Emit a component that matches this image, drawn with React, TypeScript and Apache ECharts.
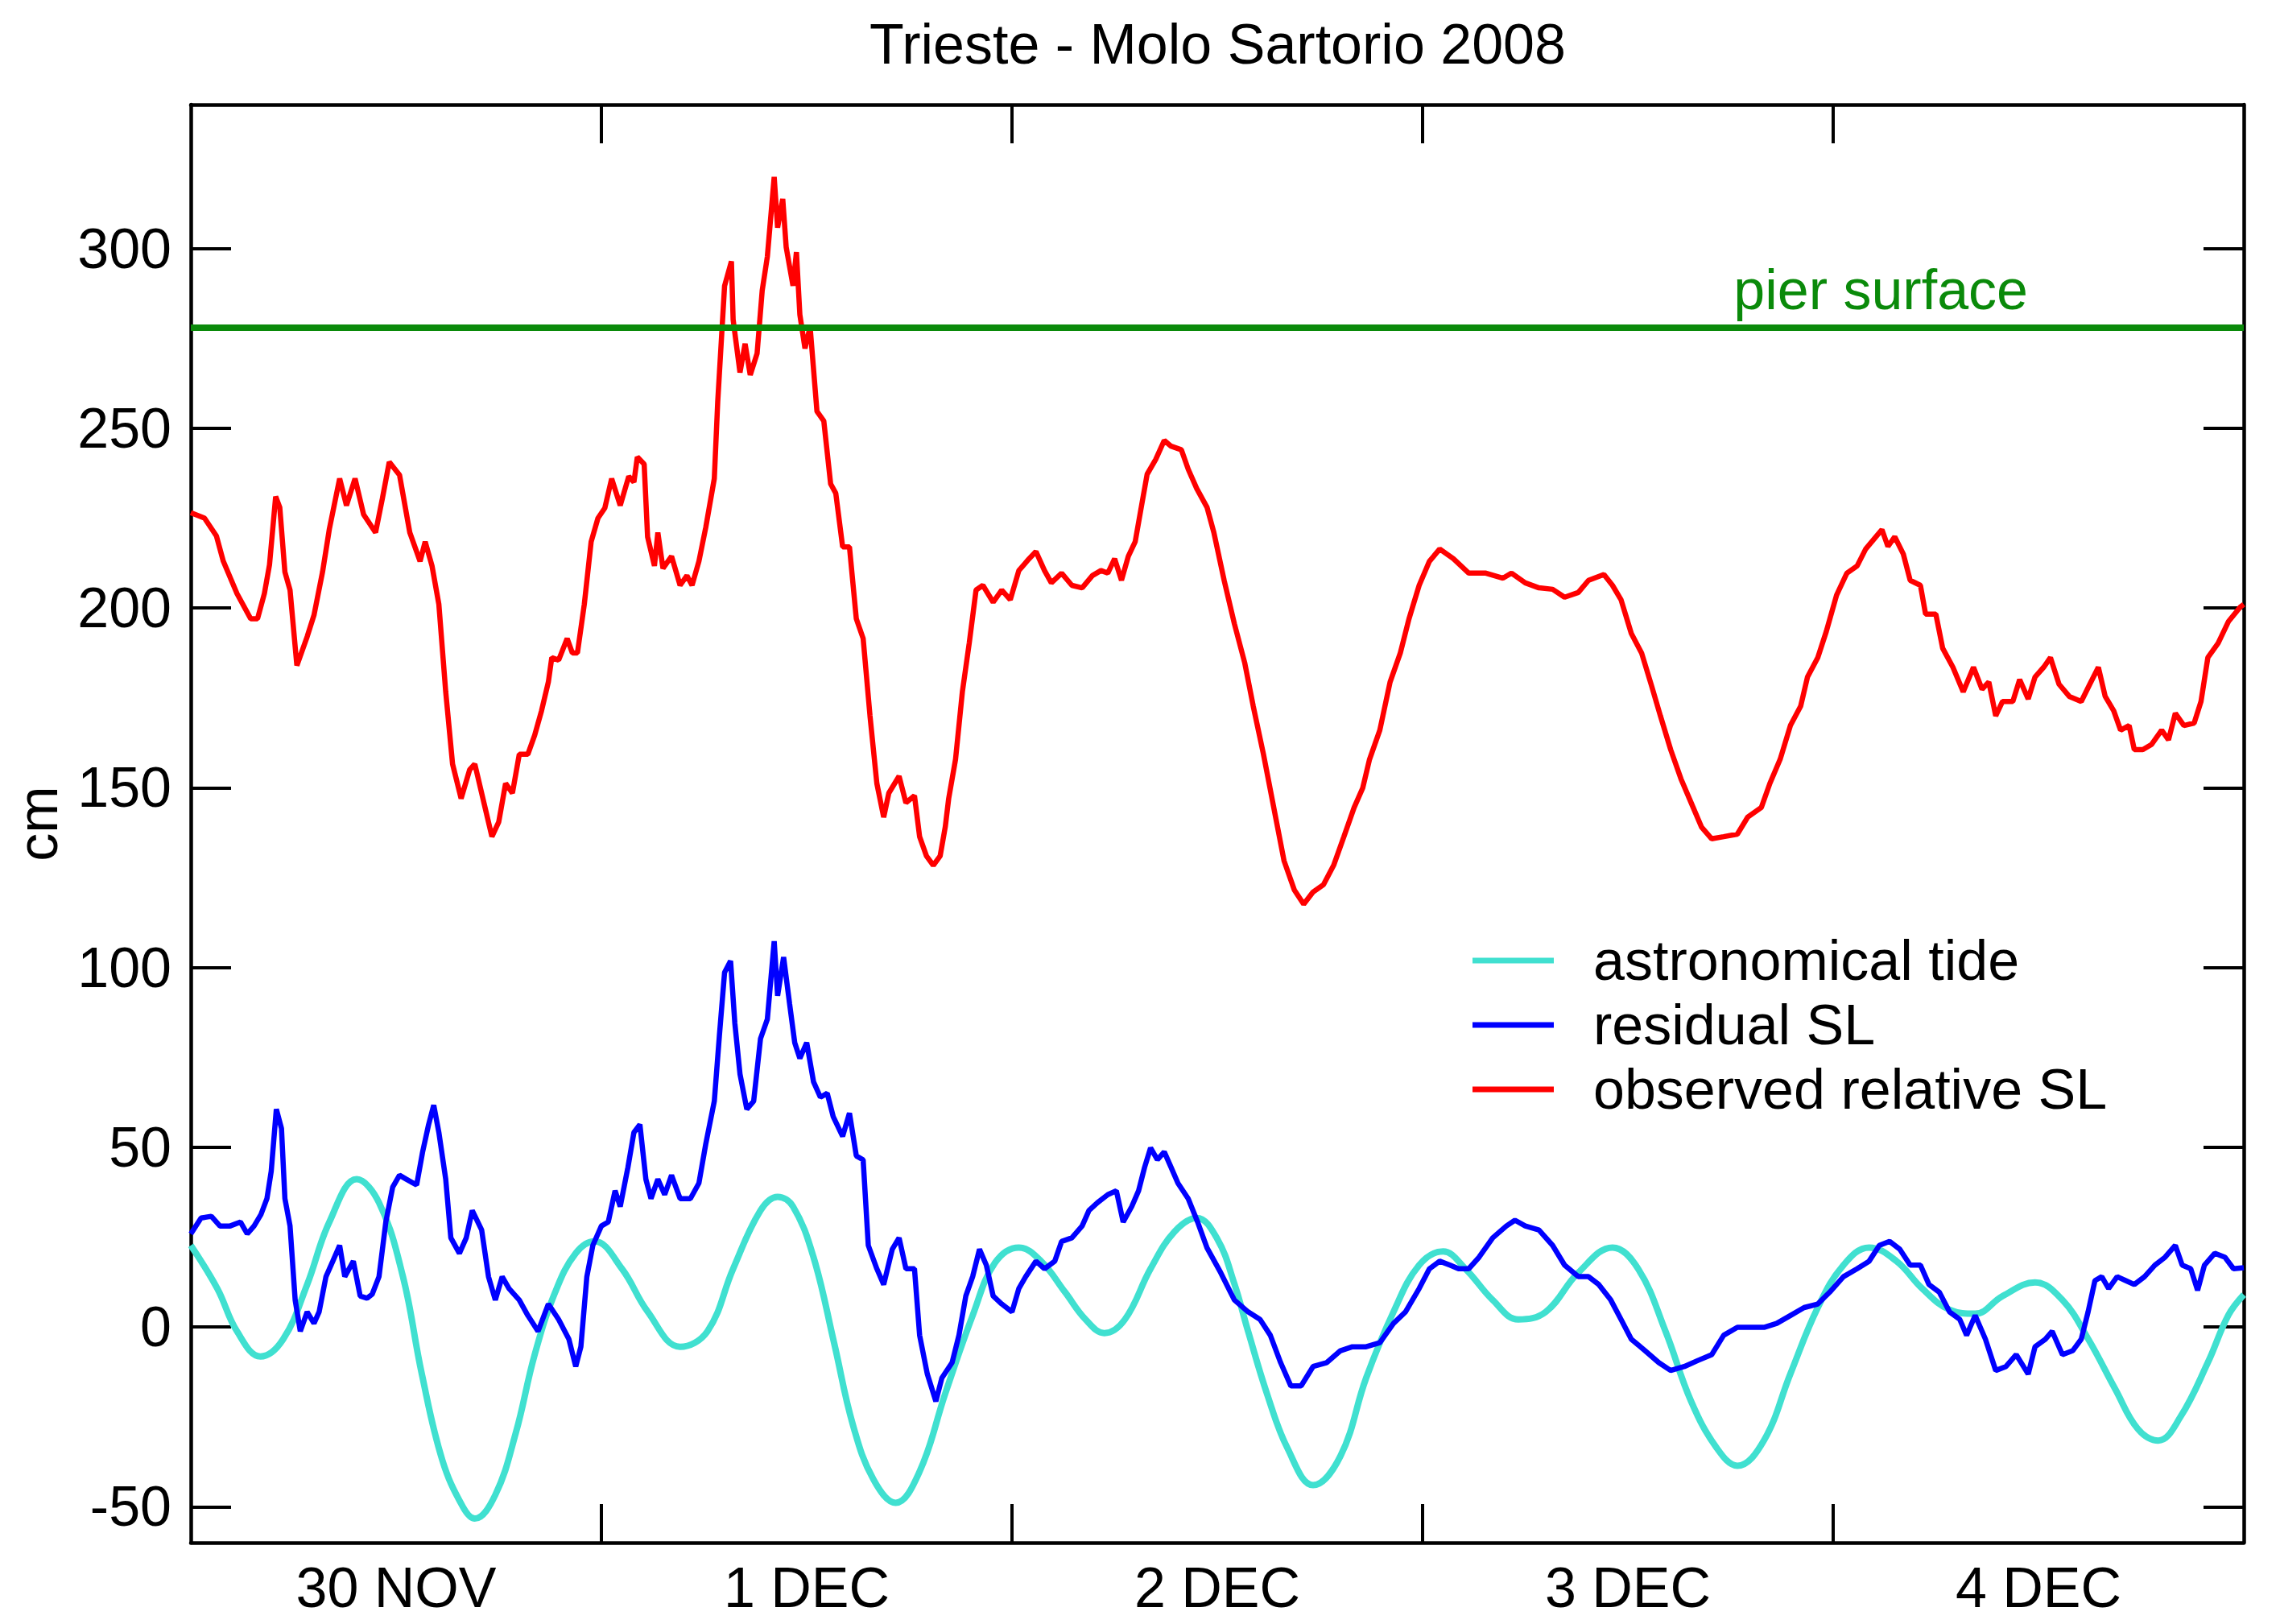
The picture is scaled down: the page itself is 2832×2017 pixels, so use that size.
import React, { useEffect, useRef } from "react";
import * as echarts from "echarts";

// hours since 30 Nov 2008 00:00, value in cm
const tideData: [number, number][] = [
  [0, 22.7], [1.55, 10.7], [2.7, -1.2], [4.07, -8.2], [5.4, -3.4], [6.8, 11.8], [8.1, 29.2], [9.7, 41.1],
  [11.0, 34.6], [12.4, 14], [13.5, -13], [14.7, -37], [15.9, -50], [16.6, -53.3], [17.8, -46.7], [19.0, -29.4],
  [20.1, -7.7], [21.3, 9.7], [22.5, 20.5], [23.6, 23.8], [25.2, 16.2], [26.7, 4.3], [28.6, -5.5], [30.2, -1.2],
  [31.7, 16.2], [33.3, 32.4], [34.3, 36.2], [35.2, 33.5], [36.4, 19.4], [37.6, -4.4], [38.7, -27.2], [39.9, -42.4],
  [41.2, -48.9], [42.6, -40.2], [44.1, -18.5], [45.7, 3.2], [47.0, 17.8], [48.4, 22.1], [49.7, 18.3], [51.1, 9.7],
  [52.3, 2.1], [53.4, -1.7], [54.6, 2.1], [56.1, 16.2], [57.5, 26.5], [58.8, 30.3], [60.0, 24.5], [61.0, 12],
  [61.8, -1.2], [62.9, -18.5], [64.1, -33.7], [65.6, -44], [67.2, -35.9], [68.7, -14.2], [70.3, 4.2], [71.8, 17.2],
  [73.2, 21], [74.5, 16.2], [76.1, 7.5], [77.6, 2.1], [79.2, 4.2], [81.1, 15.1], [83.1, 22.1], [84.6, 16.2],
  [86.2, -1.2], [87.7, -20.7], [89.2, -33.7], [90.4, -38.6], [91.96, -31.5], [93.5, -13], [95.1, 5.4], [96.6, 17.2],
  [98.1, 22.1], [99.7, 18.3], [101.2, 10.7], [102.8, 4.8], [104.3, 3.7], [105.9, 8.6], [107.8, 12.4], [109.4, 7.5],
  [110.9, -3.3], [112.5, -17.4], [113.8, -28.3], [115.0, -31.6], [116.3, -25], [117.9, -9.9], [119.1, 3.3], [120, 9]
];

const residualData: [number, number][] = [
  [0, 25.9], [0.6, 30.3], [1.2, 30.8], [1.7, 28.1], [2.3, 28.1], [2.9, 29.2], [3.3, 25.9], [3.7, 28.1], [4.1, 31.3],
  [4.45, 35.7], [4.7, 43.3], [5.0, 60.6], [5.3, 55.2], [5.5, 35.7], [5.8, 28.1], [6.1, 7.5], [6.4, -1.2], [6.8, 4.2],
  [7.2, 1], [7.5, 4.2], [7.9, 14], [8.3, 18.3], [8.7, 22.7], [9.0, 14], [9.5, 18.3], [9.9, 8.6], [10.3, 8], [10.6, 9.1],
  [11.0, 14], [11.4, 29.2], [11.8, 38.9], [12.2, 42.2], [12.6, 41.1], [13.2, 39.5], [13.55, 48.7], [13.9, 56.3],
  [14.2, 61.7], [14.5, 54.1], [14.9, 41.1], [15.2, 24.8], [15.7, 20.5], [16.1, 24.8], [16.45, 32.4], [17.0, 27],
  [17.4, 14], [17.8, 7.5], [18.2, 14], [18.6, 10.7], [19.2, 7.5], [19.7, 3.2], [20.3, -1.2], [20.9, 6.4], [21.5, 2.1],
  [22.1, -3.4], [22.5, -11], [22.8, -5.5], [23.15, 14], [23.5, 22.7], [24.0, 28.1], [24.4, 29.2], [24.8, 37.9],
  [25.1, 33.5], [25.55, 44.4], [25.9, 54.1], [26.25, 56.3], [26.6, 41.1], [26.9, 35.7], [27.3, 41.1], [27.7, 36.8],
  [28.1, 42.2], [28.6, 35.7], [29.2, 35.7], [29.7, 40], [30.1, 50.9], [30.6, 62.8], [30.9, 81.2], [31.2, 98.6],
  [31.55, 101.8], [31.8, 84.5], [32.1, 70.4], [32.5, 60.6], [32.9, 62.8], [33.3, 80.2], [33.7, 85.6], [34.1, 107.3],
  [34.3, 92.1], [34.65, 102.9], [35.0, 89.9], [35.3, 79.1], [35.6, 74.7], [36.0, 79.1], [36.4, 68.2], [36.8, 63.9],
  [37.2, 65], [37.55, 58.5], [38.1, 53], [38.5, 59.5], [38.9, 47.6], [39.3, 46.5], [39.6, 22.7], [40.1, 16.2],
  [40.5, 11.8], [41.0, 21.6], [41.4, 24.8], [41.8, 16.2], [42.3, 16.2], [42.6, -2.3], [43.05, -13.1], [43.55, -20.7],
  [43.9, -14.2], [44.5, -9.9], [44.9, -2.3], [45.3, 8.6], [45.7, 14], [46.1, 21.6], [46.5, 17.2], [46.9, 8.6],
  [47.4, 6.4], [48.0, 4.2], [48.4, 10.7], [48.8, 14], [49.4, 18.3], [49.9, 16.2], [50.5, 18.3], [50.9, 23.8],
  [51.5, 24.8], [52.1, 28.1], [52.5, 32.4], [53.0, 34.6], [53.6, 36.8], [54.1, 37.9], [54.5, 29.2], [55.0, 33.5],
  [55.4, 37.9], [55.75, 44.4], [56.1, 49.8], [56.5, 46.5], [56.9, 48.7], [57.3, 44.4], [57.7, 40], [58.3, 35.7],
  [58.85, 29.2], [59.4, 22], [60.2, 15.1], [61.0, 7.5], [61.8, 4.2], [62.5, 2.1], [63.1, -2.3], [63.7, -9.9],
  [64.3, -16.4], [64.9, -16.4], [65.6, -11], [66.4, -9.9], [67.2, -6.6], [67.9, -5.5], [68.7, -5.5], [69.5, -4.4],
  [70.3, 1], [71.0, 4.2], [71.8, 10.7], [72.4, 16.2], [73.0, 18.3], [73.6, 17.2], [74.1, 16.2], [74.7, 16.2],
  [75.3, 19.4], [76.1, 24.8], [76.9, 28.1], [77.4, 29.7], [78.0, 28.1], [78.8, 27], [79.6, 22.7], [80.3, 17.2],
  [81.1, 14], [81.7, 14], [82.3, 11.8], [83.0, 7.5], [83.6, 2.1], [84.2, -3.4], [85.0, -6.6], [85.8, -9.9],
  [86.5, -12.1], [87.3, -11], [88.1, -9.3], [88.9, -7.7], [89.6, -2.3], [90.4, -0.1], [91.2, -0.1], [91.96, -0.1],
  [92.7, 1], [93.5, 3.2], [94.3, 5.4], [95.1, 6.4], [95.8, 9.7], [96.6, 14], [97.4, 16.2], [98.1, 18.3], [98.7, 22.7],
  [99.3, 23.8], [99.9, 21.6], [100.5, 17.2], [101.1, 17.2], [101.6, 11.8], [102.2, 9.7], [102.8, 4.2], [103.4, 2.1],
  [103.8, -2.3], [104.3, 3.2], [104.9, -3.4], [105.5, -12.1], [106.1, -11], [106.7, -7.7], [107.4, -13.1],
  [107.8, -5.5], [108.4, -3.4], [108.8, -1.2], [109.4, -7.7], [110.0, -6.6], [110.5, -3.4], [110.9, 4.2],
  [111.3, 12.9], [111.7, 14], [112.1, 10.7], [112.6, 14], [113.1, 12.9], [113.6, 11.8], [114.2, 14], [114.8, 17.2],
  [115.4, 19.4], [116.0, 22.7], [116.4, 17.2], [116.9, 16.2], [117.3, 10.2], [117.7, 17.2], [118.3, 20.5],
  [118.9, 19.4], [119.4, 16.2], [120, 16.5]
];

const observedData: [number, number][] = [
  [0, 226.5], [0.8, 225], [1.5, 220], [1.9, 213], [2.7, 204], [3.5, 197], [3.9, 197], [4.3, 204], [4.6, 212],
  [4.96, 231], [5.2, 228], [5.5, 210], [5.8, 205], [6.2, 184], [6.8, 192], [7.2, 198], [7.7, 210], [8.1, 222],
  [8.7, 236], [9.1, 228.5], [9.6, 236], [10.1, 226], [10.8, 221], [11.2, 230.5], [11.6, 240.6], [12.2, 237],
  [12.8, 221], [13.4, 213], [13.7, 218.4], [14.1, 211.7], [14.5, 201], [14.9, 176.7], [15.3, 156.6], [15.8, 147],
  [16.3, 155], [16.6, 156.6], [17.0, 148.5], [17.6, 136.4], [18.0, 140.5], [18.4, 151.2], [18.8, 148.5],
  [19.2, 159.3], [19.7, 159.3], [20.1, 164.6], [20.5, 171.4], [20.9, 179.4], [21.1, 186.2], [21.5, 185.5],
  [22.0, 191.5], [22.3, 187.5], [22.6, 187.5], [23.0, 201], [23.4, 218.4], [23.8, 225], [24.2, 227.8], [24.6, 236],
  [25.1, 228.5], [25.6, 236.6], [25.9, 235], [26.1, 242], [26.5, 240], [26.7, 219.8], [27.1, 211.7], [27.3, 221],
  [27.6, 211], [28.1, 214.4], [28.6, 206.3], [29.0, 209], [29.3, 206.3], [29.7, 213], [30.1, 222.4], [30.6, 236],
  [30.8, 257.4], [31.0, 273.5], [31.2, 289.6], [31.6, 296.4], [31.7, 280.2], [32.1, 265.5], [32.4, 273.5],
  [32.7, 264.8], [33.1, 270.8], [33.4, 288.3], [33.7, 297.7], [34.1, 319.9], [34.3, 305.8], [34.6, 313.8],
  [34.8, 300.4], [35.2, 289.6], [35.4, 299], [35.6, 281.6], [35.9, 272.2], [36.2, 278.2], [36.6, 254.7], [37.0, 252],
  [37.4, 234.5], [37.7, 231.9], [38.1, 217], [38.5, 217], [38.9, 197], [39.3, 191.5], [39.7, 170], [40.1, 151.2],
  [40.5, 141.8], [40.8, 148.5], [41.4, 153.2], [41.8, 145.8], [42.3, 147.8], [42.6, 136.4], [43.0, 131],
  [43.4, 128.4], [43.8, 131], [44.1, 139.1], [44.3, 147], [44.7, 157.9], [45.1, 176.7], [45.5, 190.2], [45.9, 205],
  [46.3, 206.3], [46.9, 201.6], [47.4, 205], [47.9, 202.3], [48.4, 210.4], [49.0, 213.7], [49.4, 215.7],
  [49.9, 210.4], [50.3, 207], [50.9, 209.7], [51.5, 206.3], [52.1, 205.6], [52.7, 209], [53.2, 210.4], [53.6, 209.7],
  [54.0, 213.7], [54.4, 207.7], [54.8, 214.4], [55.2, 218.4], [55.6, 229.2], [55.9, 237.2], [56.4, 241.3],
  [56.9, 246.6], [57.3, 245], [57.9, 244], [58.3, 238.6], [58.8, 233.2], [59.4, 228], [59.8, 221], [60.4, 207.7],
  [61.0, 195.6], [61.6, 184.8], [62.1, 172.7], [62.7, 159.3], [63.3, 144.5], [63.9, 129.7], [64.5, 121.6],
  [65.05, 117.6], [65.6, 121], [66.2, 123], [66.8, 128.4], [67.4, 136.4], [68.0, 144.5], [68.5, 149.9],
  [68.9, 157.9], [69.5, 166], [70.1, 179.4], [70.7, 187.5], [71.2, 196.9], [71.8, 206.3], [72.4, 213], [73.0, 216.4],
  [73.8, 213.7], [74.7, 209.7], [75.7, 209.7], [76.7, 208.3], [77.2, 209.7], [78.0, 207], [78.8, 205.6],
  [79.6, 205.2], [80.3, 203], [81.1, 204.3], [81.7, 207.7], [82.6, 209.3], [83.1, 206.3], [83.6, 202.3],
  [84.2, 192.9], [84.8, 187.5], [85.4, 178.1], [85.9, 170], [86.5, 160.6], [87.1, 152.5], [87.7, 145.8],
  [88.3, 139.1], [88.9, 135.8], [89.6, 136.4], [90.4, 137.1], [91.0, 141.8], [91.8, 144.5], [92.3, 151.2],
  [92.9, 157.9], [93.5, 167.3], [94.1, 172.7], [94.5, 180.8], [95.1, 186.2], [95.6, 193.5], [96.2, 203.6],
  [96.8, 209.7], [97.4, 211.7], [97.9, 216.4], [98.5, 219.8], [98.85, 221.8], [99.2, 217.1], [99.6, 219.8],
  [100.1, 215], [100.5, 207.7], [101.1, 206.3], [101.4, 198.3], [102.0, 198.3], [102.4, 188.8], [103.0, 183.5],
  [103.6, 176.7], [104.2, 183.5], [104.7, 177.4], [105.1, 179.4], [105.5, 170], [105.9, 174], [106.5, 174],
  [106.9, 180.1], [107.4, 174.7], [107.8, 180.8], [108.3, 183.5], [108.7, 186.2], [109.2, 178.8], [109.8, 175.4],
  [110.5, 174], [111.0, 178.8], [111.5, 183.5], [111.9, 175.4], [112.4, 171.4], [112.8, 166], [113.3, 167.3],
  [113.6, 160.6], [114.1, 160.6], [114.6, 162], [115.2, 166], [115.6, 163.3], [116.0, 170.7], [116.5, 167.3],
  [117.1, 168], [117.5, 174], [117.9, 186.2], [118.5, 190.2], [119.1, 196.2], [119.8, 200.3], [120, 201]
];

const pierSurface = 278;
const yTickValues = [-50, 0, 50, 100, 150, 200, 250, 300];
const dayTickHours = [24, 48, 72, 96];
const dayLabelHours = [12, 36, 60, 84, 108];
const dayLabels = ["30 NOV", "1 DEC", "2 DEC", "3 DEC", "4 DEC"];

const FONT = "Liberation Sans";

export default function App() {
  const ref = useRef<HTMLDivElement>(null);
  useEffect(() => {
    const chart = echarts.init(ref.current!, null, { renderer: "svg" });
    const axisLine = { show: true, onZero: false, lineStyle: { color: "#000", width: 4.5 } };
    const tickStyle = { color: "#000", width: 4 };
    chart.setOption({
      animation: false,
      backgroundColor: "#fff",
      title: {
        text: "Trieste - Molo Sartorio 2008",
        left: 1075,
        top: 15,
        textStyle: { fontSize: 70, fontWeight: "normal", fontFamily: FONT, color: "#000" },
      },
      grid: { left: 237, right: 45, top: 130, bottom: 101, containLabel: false },
      legend: {
        data: ["astronomical tide", "residual SL", "observed relative SL"],
        orient: "vertical",
        left: 1824,
        top: 1153,
        itemWidth: 101,
        itemHeight: 7,
        itemGap: 10,
        icon: "rect",
        textStyle: { fontSize: 70, fontFamily: FONT, color: "#000", padding: [0, 0, 0, 44] },
      },
      xAxis: [
        {
          type: "value",
          position: "bottom",
          min: 0,
          max: 120,
          axisLine,
          axisTick: { show: true, inside: true, length: 48, customValues: dayTickHours, lineStyle: tickStyle },
          axisLabel: {
            show: true,
            customValues: dayLabelHours,
            formatter: (v: number) => {
              const i = dayLabelHours.indexOf(v);
              return i >= 0 ? dayLabels[i] : "";
            },
            fontSize: 70,
            fontFamily: FONT,
            color: "#000",
            margin: 21,
          },
          splitLine: { show: false },
        },
        {
          type: "value",
          position: "top",
          min: 0,
          max: 120,
          axisLine,
          axisTick: { show: true, inside: true, length: 48, customValues: dayTickHours, lineStyle: tickStyle },
          axisLabel: { show: false },
          splitLine: { show: false },
        },
      ],
      yAxis: [
        {
          type: "value",
          position: "left",
          min: -60,
          max: 340,
          name: "cm",
          nameLocation: "middle",
          nameGap: 155,
          nameTextStyle: { fontSize: 70, fontFamily: FONT, color: "#000" },
          axisLine,
          axisTick: { show: true, inside: true, length: 50, customValues: yTickValues, lineStyle: tickStyle },
          axisLabel: { show: true, customValues: yTickValues, fontSize: 70, fontFamily: FONT, color: "#000", margin: 24 },
          splitLine: { show: false },
        },
        {
          type: "value",
          position: "right",
          min: -60,
          max: 340,
          axisLine,
          axisTick: { show: true, inside: true, length: 50, customValues: yTickValues, lineStyle: tickStyle },
          axisLabel: { show: false },
          splitLine: { show: false },
        },
      ],
      series: [
        {
          name: "astronomical tide",
          type: "line",
          data: tideData,
          smooth: 0.4,
          symbol: "none",
          showSymbol: false,
          lineStyle: { color: "#40E0D0", width: 8 },
          itemStyle: { color: "#40E0D0" },
          z: 2,
        },
        {
          name: "residual SL",
          type: "line",
          data: residualData,
          symbol: "none",
          showSymbol: false,
          lineStyle: { color: "#0000FF", width: 6.5 },
          itemStyle: { color: "#0000FF" },
          z: 3,
        },
        {
          name: "observed relative SL",
          type: "line",
          data: observedData,
          symbol: "none",
          showSymbol: false,
          lineStyle: { color: "#FF0000", width: 6.5 },
          itemStyle: { color: "#FF0000" },
          z: 4,
          markLine: {
            silent: true,
            symbol: "none",
            data: [{ yAxis: pierSurface }],
            lineStyle: { color: "#0A8A0A", width: 8, type: "solid" },
            label: {
              show: true,
              position: "insideEndTop",
              formatter: "pier surface",
              color: "#0A8A0A",
              fontSize: 70,
              fontFamily: FONT,
              distance: [268, 12],
            },
          },
        },
      ],
    });
    return () => chart.dispose();
  }, []);
  return <div ref={ref} style={{ position: "absolute", left: 0, top: 0, width: 2832, height: 2017 }} />;
}
